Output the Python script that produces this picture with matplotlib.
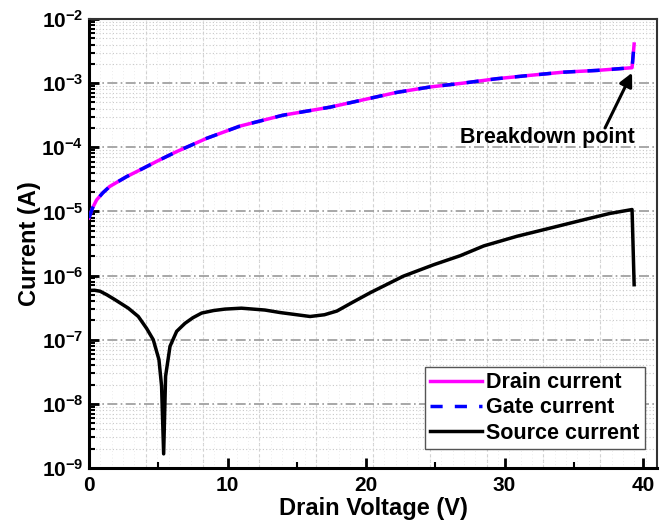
import numpy as np
import matplotlib
matplotlib.use('Agg')
import matplotlib.pyplot as plt
from matplotlib.ticker import FixedLocator, FuncFormatter, NullFormatter

plt.rcParams['font.family'] = ['Liberation Sans', 'DejaVu Sans']
plt.rcParams['font.weight'] = 'bold'
plt.rcParams['mathtext.fontset'] = 'custom'
plt.rcParams['mathtext.rm'] = 'Liberation Sans:bold'
plt.rcParams['mathtext.bf'] = 'Liberation Sans:bold'

# drain / gate current (they overlap)
drain_v = [0, 0.25, 0.55, 1.0, 1.5, 2.7, 3.9, 5.0, 6.3, 8.5, 10.9, 14.0, 17.4,
           19.8, 22.2, 24.6, 27.0, 29.4, 31.8, 34.2, 36.7, 39.2, 39.35]
drain_i = [7.9e-6, 1.12e-5, 1.51e-5, 1.95e-5, 2.45e-5, 3.47e-5, 4.68e-5,
           6.2e-5, 8.5e-5, 1.38e-4, 2.14e-4, 3.16e-4, 4.22e-4, 5.5e-4,
           7.16e-4, 8.7e-4, 1.0e-3, 1.17e-3, 1.32e-3, 1.48e-3, 1.58e-3,
           1.74e-3, 4.07e-3]
gate_v = drain_v
gate_i = drain_i

# source current
source_v = [0, 0.4, 0.8, 1.3, 1.88, 2.84, 3.56, 4.16, 4.64, 5.05, 5.24, 5.39,
            5.53, 5.85, 6.33, 6.93, 7.5, 8.13, 9.0, 9.82, 11.0, 12.7, 13.8,
            15.96, 17.0, 17.9, 19.0, 20.3, 22.7, 24.9, 26.8, 28.5, 30.9, 33.3,
            35.7, 37.6, 39.2, 39.35]
source_i = [5.85e-7, 5.9e-7, 5.7e-7, 5.0e-7, 4.2e-7, 3.1e-7, 2.3e-7, 1.5e-7,
            1.0e-7, 4.9e-8, 1.9e-8, 1.66e-9, 2.7e-8, 7.9e-8, 1.35e-7, 1.8e-7,
            2.2e-7, 2.6e-7, 2.85e-7, 3.0e-7, 3.1e-7, 2.9e-7, 2.65e-7, 2.3e-7,
            2.45e-7, 2.8e-7, 3.8e-7, 5.4e-7, 9.8e-7, 1.48e-6, 2.04e-6, 2.9e-6,
            4.1e-6, 5.5e-6, 7.4e-6, 9.3e-6, 1.07e-5, 7.2e-7]

x_ticks = [0, 10, 20, 30, 40]
x_minor = [5, 15, 25, 35]
y_exps = [-9, -8, -7, -6, -5, -4, -3, -2]

# breakdown annotation
bd_point = (39.2, 1.45e-3)
bd_tail = (37.25, 2.0e-4)
bd_text = (33.1, 1.44e-4)

fig = plt.figure(figsize=(6.67, 5.26), dpi=100)
ax = fig.add_axes([0.1334, 0.1103, 0.8516, 0.8536])

ax.set_yscale('log')
ax.set_xlim(0, 41)
ax.set_ylim(1e-9, 1e-2)

# grids
for d in y_exps[:-1]:
    for m in range(2, 10):
        ax.axhline(m * 10.0**d, color='#c8c8c8', lw=0.8, ls=(0, (1, 2)), zorder=0)
for d in y_exps[1:-1]:
    ax.axhline(10.0**d, color='#9a9a9a', lw=1.2, ls=(0, (6, 2, 1, 2)), zorder=0.5)
for xv in np.linspace(0, 41, 11)[1:-1]:
    ax.axvline(xv, color='#d0d0d0', lw=0.8, ls=(0, (3, 2)), zorder=0)
for xv in np.linspace(0, 41, 51):
    ax.axvline(xv, color='#e6e6e6', lw=0.6, ls=(0, (1, 3)), zorder=0)

ax.plot(drain_v, drain_i, color='#ff00ff', lw=2.5, label='Drain current', zorder=3)
ax.plot(gate_v, gate_i, color='#0000ff', lw=2.5, dashes=(3.5, 3.5), label='Gate current', zorder=4)
ax.plot(source_v, source_i, color='black', lw=2.5, label='Source current', zorder=3)

ax.text(bd_text[0], bd_text[1], 'Breakdown point', fontsize=15.5, fontweight='bold',
        ha='center', va='center', zorder=5)
ax.annotate('', xy=bd_point, xytext=bd_tail,
            arrowprops=dict(arrowstyle='-|>', color='black', lw=2.2,
                            mutation_scale=20, shrinkA=0, shrinkB=0))

# ticks
ax.xaxis.set_major_locator(FixedLocator(x_ticks))
ax.xaxis.set_minor_locator(FixedLocator(x_minor))
ax.yaxis.set_major_locator(FixedLocator([10.0**d for d in y_exps]))
ax.yaxis.set_minor_locator(FixedLocator([m * 10.0**d for d in y_exps[:-1] for m in range(2, 10)]))
ax.yaxis.set_major_formatter(FuncFormatter(lambda v, p: r'$\mathbf{10^{%d}}$' % round(np.log10(v))))
ax.yaxis.set_minor_formatter(NullFormatter())
ax.tick_params(which='major', direction='in', length=7, width=2, labelsize=15,
               top=False, right=False)
ax.tick_params(which='minor', direction='in', length=4, width=1.5,
               top=False, right=False)
ax.tick_params(axis='x', which='major', pad=6)
ax.tick_params(axis='y', which='major', pad=4)
for lab in ax.get_xticklabels():
    lab.set_fontweight('bold')

for s in ['left', 'bottom']:
    ax.spines[s].set_linewidth(2.2)
for s in ['top', 'right']:
    ax.spines[s].set_linewidth(1.5)
    ax.spines[s].set_color('#333333')

ax.set_xlabel('Drain Voltage (V)', fontsize=17, fontweight='bold', labelpad=1)
ax.set_ylabel('Current (A)', fontsize=17, fontweight='bold', labelpad=0)

leg = ax.legend(loc='lower right', bbox_to_anchor=(0.979, 0.042), borderaxespad=0,
                fontsize=15.5, handlelength=2.4, handletextpad=0.2, labelspacing=0.2,
                borderpad=0.25, fancybox=False, framealpha=1, edgecolor='#555555')
leg.get_frame().set_linewidth(1.0)
for t in leg.get_texts():
    t.set_fontweight('bold')

plt.savefig('out.png', dpi=100)
